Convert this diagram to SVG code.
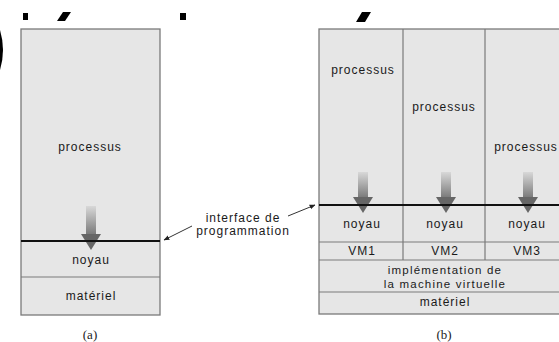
<svg xmlns="http://www.w3.org/2000/svg" width="559" height="342" viewBox="0 0 559 342">
<style>
.box{fill:#e6e6e6;stroke:#7a7a7a;stroke-width:1.3}
.div{stroke:#7a7a7a;stroke-width:1.2;fill:none}
.api{stroke:#111;stroke-width:2;fill:none}
.t{font-family:"Liberation Sans",Arial,sans-serif;font-size:12px;letter-spacing:1px;fill:#1a1a1a;text-anchor:middle}
.sm{font-size:11.5px;letter-spacing:1.2px}
.cap{font-family:"Liberation Serif","Times New Roman",serif;font-size:13px;fill:#222;text-anchor:middle}
.head{fill:#666}
.con{stroke:#333;stroke-width:1;fill:none}
.mark{fill:#000}
</style>
<defs>
<linearGradient id="g" x1="0" y1="0" x2="0" y2="1">
<stop offset="0" stop-color="#d8d8d8"/>
<stop offset="1" stop-color="#7c7c7c"/>
</linearGradient>
<marker id="ah" viewBox="0 0 10 10" refX="9" refY="5" markerWidth="6" markerHeight="6" orient="auto">
<path d="M0,1 L10,5 L0,9 z" fill="#222"/>
</marker>
</defs>
<g id="top-marks">
<path class="mark" d="M0,30 Q6,50 0,70 z"/>
<rect class="mark" x="23" y="13" width="5" height="7"/>
<polygon class="mark" points="63,12 71,12 65,21 57,21"/>
<rect class="mark" x="180" y="13" width="6" height="7"/>
<polygon class="mark" points="362,12 371,12 365,22 356,22"/>
</g>
<g id="panel-a">
<rect class="box" x="21" y="29" width="139" height="286"/>
<line class="div" x1="21" y1="277" x2="160" y2="277"/>
<text class="t" x="90" y="151">processus</text>
<g id="arrow-a">
<rect x="86" y="206" width="10" height="28" fill="url(#g)"/>
<polygon class="head" points="81,234 101,234 91,250"/>
</g>
<line class="api" x1="21" y1="241" x2="160" y2="241"/>
<text class="t" x="91" y="264">noyau</text>
<text class="t" x="91" y="300">matériel</text>
<text class="cap" x="90" y="339">(a)</text>
</g>
<g id="label-interface">
<text class="t" x="243" y="222">interface de</text>
<text class="t" x="243" y="235">programmation</text>
</g>
<g id="connectors">
<line class="con" x1="192" y1="226" x2="164" y2="240" marker-end="url(#ah)"/>
<line class="con" x1="288" y1="216" x2="315" y2="205" marker-end="url(#ah)"/>
</g>
<g id="panel-b">
<rect class="box" x="319" y="29" width="250" height="285"/>
<line class="div" x1="403" y1="29" x2="403" y2="260"/>
<line class="div" x1="485" y1="29" x2="485" y2="260"/>
<line class="div" x1="319" y1="242" x2="569" y2="242"/>
<line class="div" x1="319" y1="260" x2="569" y2="260"/>
<line class="div" x1="319" y1="292" x2="569" y2="292"/>
<text class="t" x="363" y="74">processus</text>
<text class="t" x="444" y="111">processus</text>
<text class="t" x="526" y="151">processus</text>
<g id="arrows-b">
<rect x="358" y="172" width="10" height="25" fill="url(#g)"/>
<polygon class="head" points="353,197 373,197 363,213"/>
<rect x="441" y="172" width="10" height="25" fill="url(#g)"/>
<polygon class="head" points="436,197 456,197 446,213"/>
<rect x="523" y="172" width="10" height="25" fill="url(#g)"/>
<polygon class="head" points="518,197 538,197 528,213"/>
</g>
<line class="api" x1="319" y1="205" x2="569" y2="205"/>
<text class="t" x="362" y="228">noyau</text>
<text class="t" x="445" y="228">noyau</text>
<text class="t" x="527" y="228">noyau</text>
<text class="t" x="362" y="255">VM1</text>
<text class="t" x="445" y="255">VM2</text>
<text class="t" x="527" y="255">VM3</text>
<text class="t sm" x="445" y="273.5">implémentation de</text>
<text class="t sm" x="445" y="287.5">la machine virtuelle</text>
<text class="t" x="445" y="306">matériel</text>
<text class="cap" x="444" y="339">(b)</text>
</g>
</svg>
